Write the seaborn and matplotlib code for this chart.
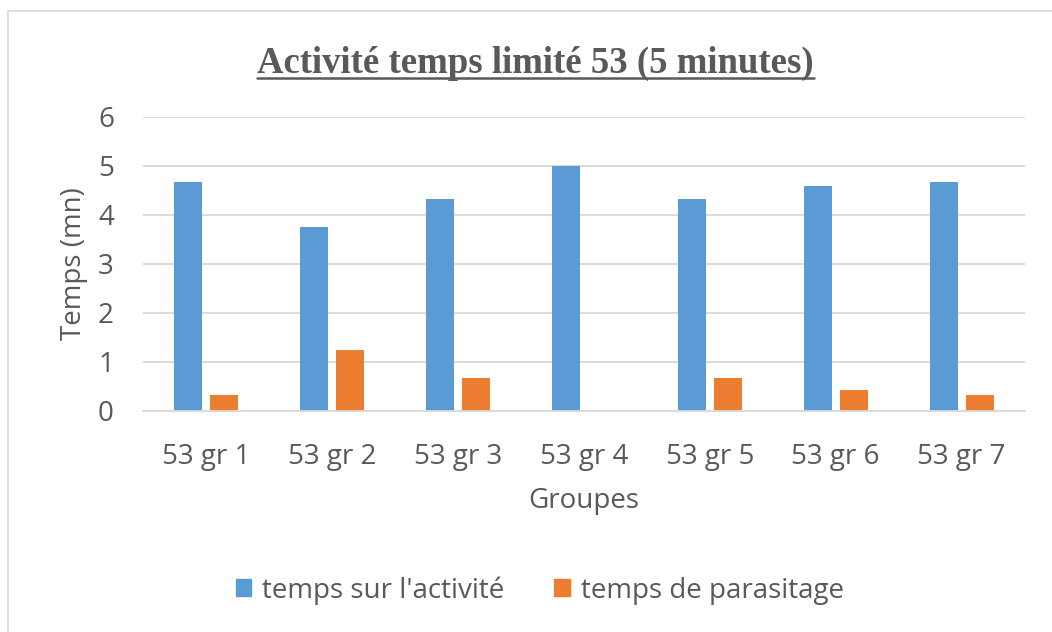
import pandas as pd
import matplotlib.pyplot as plt
import seaborn as sns
from matplotlib.patches import Rectangle
from matplotlib.lines import Line2D

# data (minutes)
groupes = ["53 gr 1", "53 gr 2", "53 gr 3", "53 gr 4", "53 gr 5", "53 gr 6", "53 gr 7"]
temps_activite = [4.67, 3.75, 4.33, 5.0, 4.33, 4.58, 4.67]
temps_parasitage = [0.33, 1.25, 0.67, 0.0, 0.67, 0.42, 0.33]
series_names = ["temps sur l'activité", "temps de parasitage"]
y_ticks = [0, 1, 2, 3, 4, 5, 6]

TXT = "#595959"
COLORS = ["#5B9BD5", "#ED7D31"]

df = pd.DataFrame({
    "Groupes": groupes * 2,
    "Temps": temps_activite + temps_parasitage,
    "Serie": [series_names[0]] * len(groupes) + [series_names[1]] * len(groupes),
})

sns.set_theme(style="white")
plt.rcParams["font.family"] = ["Open Sans", "DejaVu Sans"]

fig = plt.figure(figsize=(10.52, 6.32), dpi=100)
ax = fig.add_axes([0.136, 0.350, 0.838, 0.465])

sns.barplot(data=df, x="Groupes", y="Temps", hue="Serie", palette=COLORS,
            width=0.567, gap=0.215, ax=ax, legend=False, saturation=1,
            edgecolor="none")

ax.set_ylim(0, 6)
ax.set_xlim(-0.5, len(groupes) - 0.5)
ax.set_yticks(y_ticks)
ax.yaxis.grid(True, color="#D9D9D9", linewidth=1.3)
ax.set_axisbelow(True)
for side in ["top", "right", "left"]:
    ax.spines[side].set_visible(False)
ax.spines["bottom"].set_color("#D9D9D9")
ax.spines["bottom"].set_linewidth(1.3)
ax.tick_params(axis="both", length=0, labelsize=20, colors=TXT)
ax.tick_params(axis="x", pad=23)
ax.tick_params(axis="y", pad=21)

ax.set_xlabel("Groupes", fontsize=20, color=TXT, labelpad=12)
ax.set_ylabel("Temps (mn)", fontsize=20, color=TXT, labelpad=7)

title = fig.text(0.509, 0.900, "Activité temps limité 53 (5 minutes)",
                 ha="center", va="center", fontsize=26.5, fontweight="bold",
                 family="Liberation Serif", color=TXT)

handles = [Rectangle((0, 0), 1, 1, color=c) for c in COLORS]
fig.legend(handles, series_names, loc="center", bbox_to_anchor=(0.513, 0.066),
           ncol=2, frameon=False, fontsize=20, labelcolor=TXT,
           handlelength=0.55, handleheight=0.55, handletextpad=0.4,
           columnspacing=1.8)

# underline the title
fig.canvas.draw()
bb = title.get_window_extent().transformed(fig.transFigure.inverted())
fig.add_artist(Line2D([bb.x0, bb.x1], [bb.y0 + 0.004, bb.y0 + 0.004],
                      transform=fig.transFigure, color=TXT, linewidth=1.8))

# chart area border (only top and left edges visible in the crop)
fig.add_artist(Rectangle((0.0076, -0.1), 1.2, 1.0826, transform=fig.transFigure,
                         fill=False, edgecolor="#D9D9D9", linewidth=1.2))

fig.savefig("out.png", dpi=100)
